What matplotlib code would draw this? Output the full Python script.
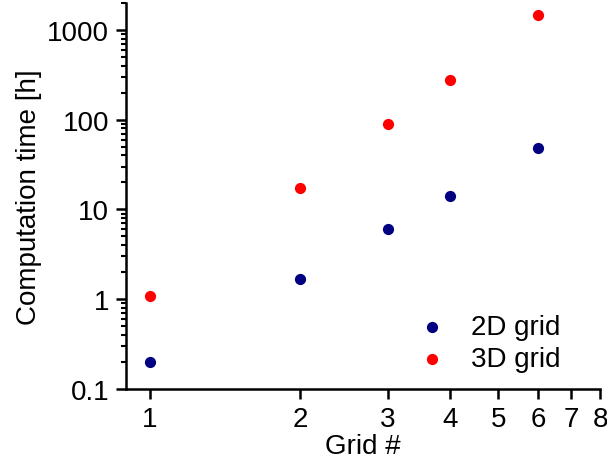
import matplotlib
matplotlib.use("Agg")
import matplotlib.pyplot as plt
from matplotlib.ticker import FixedLocator, FixedFormatter, LogLocator, NullFormatter

grid = [1, 2, 3, 4, 6]
time_2d = [0.2, 1.7, 6.0, 14.0, 49.0]
time_3d = [1.1, 17.5, 90.0, 280.0, 1450.0]
xticks = [1, 2, 3, 4, 5, 6, 7, 8]
yticks = [0.1, 1, 10, 100, 1000]
ytick_labels = ["0.1", "1", "10", "100", "1000"]

plt.rcParams['font.family'] = ['Liberation Sans', 'DejaVu Sans']
fig = plt.figure(figsize=(6.07, 4.64), dpi=100)
ax = fig.add_axes([0.2076, 0.1595, 0.781, 0.832])

ax.scatter(grid, time_2d, s=65, color='#000080', label='2D grid', zorder=3, linewidths=0)
ax.scatter(grid, time_3d, s=65, color='#ff0000', label='3D grid', zorder=3, linewidths=0)

ax.set_xscale('log')
ax.set_yscale('log')
ax.set_xlim(0.895, 8)
ax.set_ylim(0.1, 2000)

ax.xaxis.set_major_locator(FixedLocator(xticks))
ax.xaxis.set_major_formatter(FixedFormatter([str(v) for v in xticks]))
ax.xaxis.set_minor_locator(FixedLocator([]))
ax.yaxis.set_major_locator(FixedLocator(yticks))
ax.yaxis.set_major_formatter(FixedFormatter(ytick_labels))
ax.yaxis.set_minor_locator(LogLocator(base=10, subs=range(2, 10)))
ax.yaxis.set_minor_formatter(NullFormatter())

for s in ['top', 'right']:
    ax.spines[s].set_visible(False)
for s in ['left', 'bottom']:
    ax.spines[s].set_linewidth(1.8)

ax.tick_params(axis='both', which='major', direction='out', length=7, width=1.8, labelsize=20, pad=5)
ax.tick_params(axis='y', which='minor', direction='out', length=3.5, width=1.5)

ax.set_xlabel('Grid #', fontsize=20, labelpad=1)
ax.set_ylabel('Computation time [h]', fontsize=20, labelpad=4)

ax.legend(loc='lower right', frameon=False, fontsize=20, handletextpad=0.8,
          bbox_to_anchor=(0.94, 0.014), borderaxespad=0.0, labelspacing=0.24,
          handlelength=1.2)

fig.savefig('out.png', dpi=100)
